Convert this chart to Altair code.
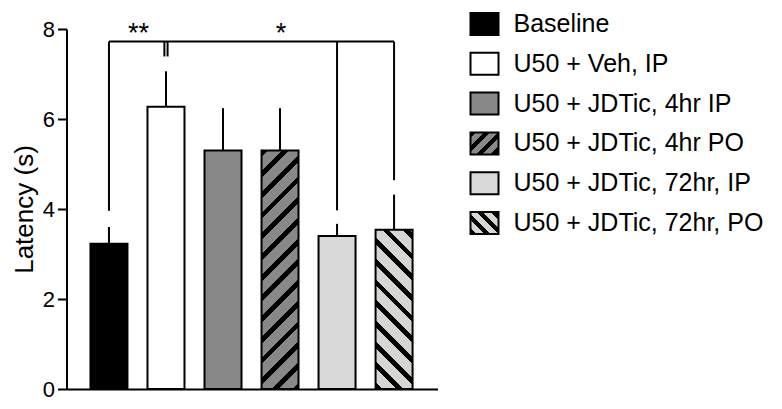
import altair as alt
import pandas as pd

# ---------------- data ----------------
groups = ["Baseline", "U50 + Veh, IP", "U50 + JDTic, 4hr IP", "U50 + JDTic, 4hr PO",
          "U50 + JDTic, 72hr, IP", "U50 + JDTic, 72hr, PO"]
means = [3.23, 6.27, 5.30, 5.30, 3.40, 3.54]
sems = [0.37, 0.79, 0.94, 0.94, 0.27, 0.78]
fills = ["#000000", "#ffffff", "#888888", "#888888", "#d9d9d9", "#d6d6d2"]
hatch = ["", "", "", "/", "", "\\"]

bracket_from = [0, 1]
bracket_to = [1, 5]
bracket_y = [7.72, 7.72]
bracket_label = ["**", "*"]

leg_pos = [0, 1, 1, 4, 5]
leg_bottom = [3.96, 7.39, 7.39, 3.97, 4.64]
leg_top = [7.72, 7.72, 7.72, 7.72, 7.72]
leg_shift = [0, -1, 1, 0, 0]

# ---------------- layout constants ----------------
W, H = 371, 360
YMAX = 8
BAR_W = 37
FONT = "Liberation Sans"

df = pd.DataFrame({
    "pos": list(range(len(groups))),
    "group": groups,
    "mean": means,
    "upper": [m + s for m, s in zip(means, sems)],
    "hatch": hatch,
})
br = pd.DataFrame({"x0": bracket_from, "x1": bracket_to, "y": bracket_y, "label": bracket_label})
legs = pd.DataFrame({"pos": leg_pos, "top": leg_top, "bottom": leg_bottom, "shift": leg_shift})


def stripes(w, h, base, direction, period=20.7, frac=0.33):
    L = w + h
    k = L / (w * w + h * h)
    if direction == "/":
        x1, y1, x2, y2 = 0.0, 0.0, w * k, h * k
    else:
        x1, y1, x2, y2 = 0.0, 1.0, w * k, 1.0 - h * k
    stops = []
    n = int(L // period) + 2
    for i in range(n):
        a = i * period / L
        b = (i + frac) * period / L
        c = (i + 1) * period / L
        for off, col in [(a, "black"), (b, "black"), (b, base), (c, base)]:
            stops.append(alt.GradientStop(offset=min(off, 1.0), color=col))
    return alt.LinearGradient(gradient="linear", stops=stops, x1=x1, y1=y1, x2=x2, y2=y2)


xscale = alt.Scale(domain=[-0.657, 5.674], nice=False, zero=False)
yscale = alt.Scale(domain=[0, YMAX], nice=False, zero=False)

X = alt.X("pos:Q", scale=xscale,
          axis=alt.Axis(ticks=False, labels=False, grid=False, domainWidth=2,
                        domainColor="black", title=None))
Y = alt.Y("mean:Q", scale=yscale,
          axis=alt.Axis(values=[0, 2, 4, 6, 8], tickSize=9, tickWidth=2, tickColor="black",
                        domainWidth=2, domainColor="black", labelFontSize=22, labelColor="black",
                        labelFont=FONT, labelPadding=3, grid=False, title="Latency (s)",
                        titleFontSize=26, titleFontWeight="normal", titleFont=FONT,
                        titleColor="black", titleX=-34, titleY=180,
                        titleBaseline="alphabetic"))

plain = [g for g, h in zip(groups, hatch) if not h]
plain_cols = [c for c, h in zip(fills, hatch) if not h]

base = alt.Chart(df)

errors = base.mark_rule(color="black", strokeWidth=2).encode(
    x=X, y=Y, y2="upper:Q")

bars_plain = base.mark_bar(width=BAR_W, stroke="black", strokeWidth=2).encode(
    x=X, y=Y,
    fill=alt.Fill("group:N", scale=alt.Scale(domain=plain, range=plain_cols), legend=None),
).transform_filter(alt.datum.hatch == "")

hatched_layers = []
for i, g in enumerate(groups):
    if hatch[i]:
        h_px = means[i] * H / YMAX
        grad = stripes(BAR_W, h_px, fills[i], hatch[i])
        hatched_layers.append(
            base.mark_bar(width=BAR_W, stroke="black", strokeWidth=2, fill=grad)
            .encode(x=X, y=Y)
            .transform_filter(alt.datum.group == g)
        )

bracket_h = alt.Chart(br).mark_rule(color="black", strokeWidth=2).encode(
    x=alt.X("x0:Q", scale=xscale), x2="x1:Q",
    y=alt.Y("y:Q", scale=yscale))

leg_layers = []
for sh in [-1, 0, 1]:
    leg_layers.append(
        alt.Chart(legs).mark_rule(color="black", strokeWidth=2, xOffset=1.6 * sh).encode(
            x=alt.X("pos:Q", scale=xscale),
            y=alt.Y("top:Q", scale=yscale), y2="bottom:Q")
        .transform_filter(alt.datum.shift == sh)
    )

stars = alt.Chart(br).transform_calculate(mid="(datum.x0 + datum.x1) / 2").mark_text(
    font=FONT, fontSize=27, color="black", baseline="alphabetic", align="center", dx=1
).encode(x=alt.X("mid:Q", scale=xscale), y=alt.Y("y:Q", scale=yscale), text="label:N")

main = alt.layer(errors, bars_plain, *hatched_layers, bracket_h, *leg_layers, stars)

# ---------------- legend ----------------
ldf = pd.DataFrame({"group": groups, "hatch": hatch})
ly = alt.Y("group:N", scale=alt.Scale(domain=groups, range=[-5, 194], padding=0), axis=None)
SW_W, SW_H = 28, 22
shape = "M-1,-{r}L1,-{r}L1,{r}L-1,{r}Z".format(r=round(SW_H / SW_W, 4))
lbase = alt.Chart(ldf)
sw_plain = lbase.mark_point(shape=shape, size=SW_W * SW_W, filled=True, stroke="black",
                            strokeWidth=2, opacity=1).encode(
    x=alt.value(418), y=ly,
    fill=alt.Fill("group:N", scale=alt.Scale(domain=plain, range=plain_cols), legend=None),
).transform_filter(alt.datum.hatch == "")
sw_hatch = []
for i, g in enumerate(groups):
    if hatch[i]:
        grad = stripes(SW_W, SW_H, fills[i], hatch[i], period=14, frac=0.4)
        sw_hatch.append(
            lbase.mark_point(shape=shape, size=SW_W * SW_W, filled=True, stroke="black",
                             strokeWidth=2, opacity=1, fill=grad)
            .encode(x=alt.value(418), y=ly)
            .transform_filter(alt.datum.group == g)
        )
ltext = lbase.mark_text(font=FONT, fontSize=25, color="black", align="left",
                        baseline="middle").encode(
    x=alt.value(447), y=ly, text="group:N")

legend = alt.layer(sw_plain, *sw_hatch, ltext)

chart = alt.layer(main, legend).resolve_scale(y="independent").properties(
    width=W, height=H,
    autosize=alt.AutoSizeParams(type="none"),
    padding={"left": 58.5, "top": 21, "right": 336, "bottom": 12},
).configure_view(stroke=None)

chart.save("out.html", embed_options={"renderer": "svg", "actions": False})
